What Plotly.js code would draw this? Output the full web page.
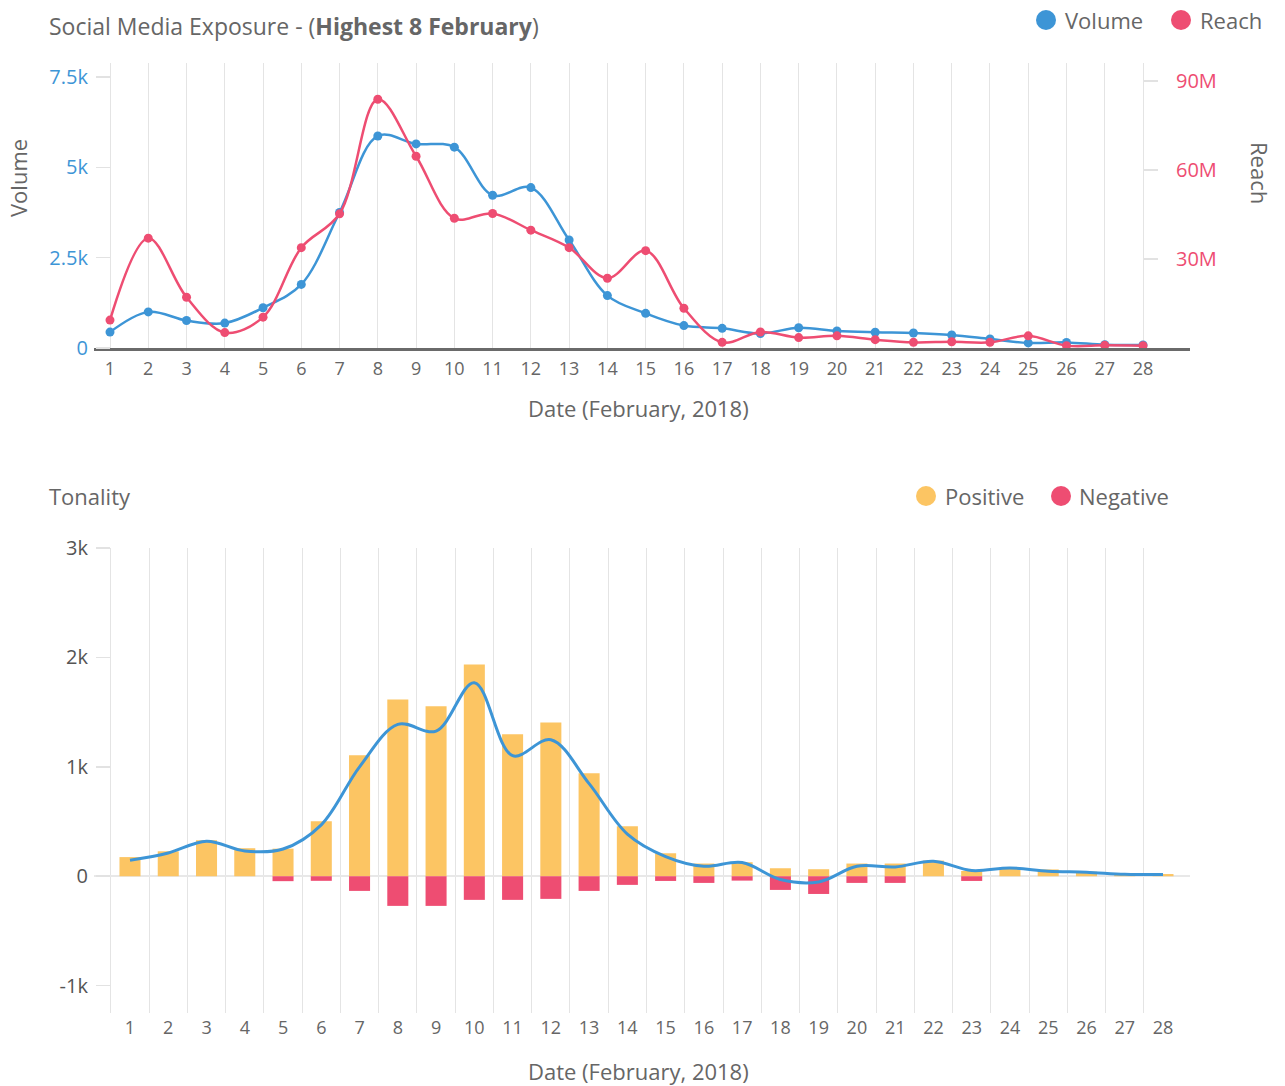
<!DOCTYPE html>
<html>
<head>
<meta charset="utf-8">
<script src="https://cdn.plot.ly/plotly-3.0.1.min.js"></script>
<style>
  html, body { margin: 0; padding: 0; background: #fff; }
  #chart { width: 1285px; height: 1086px; }
</style>
</head>
<body>
<div id="chart"></div>
<script>
// ---------- data ----------
const days = [1,2,3,4,5,6,7,8,9,10,11,12,13,14,15,16,17,18,19,20,21,22,23,24,25,26,27,28];
const dayLabels = ["1","2","3","4","5","6","7","8","9","10","11","12","13","14","15","16","17","18","19","20","21","22","23","24","25","26","27","28"];

const volume = [440,1000,760,690,1115,1760,3750,5870,5650,5560,4230,4440,2990,1450,960,620,545,400,560,470,435,415,360,250,140,155,90,85];
const reach = [9.4e6,37.0e6,17.1e6,5.2e6,10.4e6,33.8e6,45.2e6,83.8e6,64.6e6,43.7e6,45.3e6,39.7e6,33.8e6,23.5e6,32.8e6,13.4e6,1.9e6,5.4e6,3.5e6,4.1e6,2.8e6,1.9e6,2.1e6,1.9e6,4.1e6,0.8e6,0.9e6,0.8e6];

const positive = [175,228,329,256,252,502,1105,1616,1553,1936,1297,1406,941,457,210,116,128,73,64,116,116,143,48,70,62,42,14,20];
const negative = [0,0,0,0,-45,-42,-134,-271,-271,-216,-216,-207,-134,-79,-43,-61,-40,-125,-162,-61,-61,0,-43,0,0,0,0,0];
const tonalityTrend = [146,213,320,231,249,470,1000,1388,1327,1769,1102,1248,846,385,180,91,125,-30,-52,91,85,137,52,76,46,37,18,15];

const volTickVals = [0,2500,5000,7500];
const volTickText = ["0","2.5k","5k","7.5k"];
const reachTickVals = [30e6,60e6,90e6];
const reachTickText = ["30M","60M","90M"];
const tonTickVals = [-1000,0,1000,2000,3000];
const tonTickText = ["-1k","0","1k","2k","3k"];

// ---------- style ----------
const BLUE = "#3d95d6", PINK = "#ee4d72", YELLOW = "#fcc563";
const TXT = "#666666", GRID = "#e4e4e4";
const FONT = "'Open Sans', Lato, sans-serif";
const W = 1285, H = 1086;
const px = x => x / W;
const py = y => 1 - y / H;

const gridBounds = days.map(d => d - 0.5);

const traces = [
  { type: "scatter", mode: "lines+markers", name: "Volume", x: days, y: volume,
    xaxis: "x", yaxis: "y", line: { color: BLUE, width: 2.5, shape: "spline", smoothing: 1 },
    marker: { color: BLUE, size: 9 }, cliponaxis: false },
  { type: "scatter", mode: "lines+markers", name: "Reach", x: days, y: reach,
    xaxis: "x", yaxis: "y2", line: { color: PINK, width: 2.5, shape: "spline", smoothing: 1 },
    marker: { color: PINK, size: 9 }, cliponaxis: false },
  { type: "bar", name: "Positive", x: days, y: positive, xaxis: "x2", yaxis: "y3",
    marker: { color: YELLOW }, width: 0.55 },
  { type: "bar", name: "Negative", x: days, y: negative, xaxis: "x2", yaxis: "y3",
    marker: { color: PINK }, width: 0.55 },
  { type: "scatter", mode: "lines", name: "Trend", x: days, y: tonalityTrend, xaxis: "x2", yaxis: "y3",
    line: { color: BLUE, width: 3, shape: "spline", smoothing: 1 } }
];

const TS = 22;
const annotations = [
  { text: "Social Media Exposure - (<b>Highest 8 February</b>)", x: px(47), y: py(26), xanchor: "left", yanchor: "middle",
    font: { size: 23, color: TXT } },
  { text: "Volume", x: px(1063), y: py(20), xanchor: "left", yanchor: "middle", font: { size: TS, color: TXT } },
  { text: "Reach", x: px(1198), y: py(20), xanchor: "left", yanchor: "middle", font: { size: TS, color: TXT } },
  { text: "Volume", x: px(18), y: py(178), xanchor: "center", yanchor: "middle", textangle: -90, font: { size: TS, color: TXT } },
  { text: "Reach", x: px(1260), y: py(173), xanchor: "center", yanchor: "middle", textangle: 90, font: { size: TS, color: TXT } },
  { text: "Date (February, 2018)", x: px(638), y: py(408), xanchor: "center", yanchor: "middle", font: { size: TS, color: TXT } },
  { text: "Tonality", x: px(47), y: py(496), xanchor: "left", yanchor: "middle", font: { size: TS, color: TXT } },
  { text: "Positive", x: px(943), y: py(496), xanchor: "left", yanchor: "middle", font: { size: TS, color: TXT } },
  { text: "Negative", x: px(1077), y: py(496), xanchor: "left", yanchor: "middle", font: { size: TS, color: TXT } },
  { text: "Date (February, 2018)", x: px(638), y: py(1071), xanchor: "center", yanchor: "middle", font: { size: TS, color: TXT } }
].map(a => Object.assign({ xref: "paper", yref: "paper", showarrow: false }, a));

// legend dots (decoration)
const dot = (cx, cy, color) => ({ type: "circle", xref: "paper", yref: "paper",
  x0: px(cx - 10), x1: px(cx + 10), y0: py(cy + 10), y1: py(cy - 10),
  fillcolor: color, line: { width: 0 } });
const shapes = [
  dot(1046, 20, BLUE), dot(1181, 20, PINK),
  dot(926, 496, YELLOW), dot(1061, 496, PINK)
];

const layout = {
  width: W, height: H,
  margin: { l: 0, r: 0, t: 0, b: 0 },
  paper_bgcolor: "#fff", plot_bgcolor: "#fff",
  font: { family: FONT, color: TXT, size: 19 },
  showlegend: false,
  hovermode: false,
  barmode: "relative",
  xaxis: {
    domain: [px(94), px(1190)], anchor: "y", range: [0.5818, 29.228],
    tickmode: "array", tickvals: days, ticktext: dayLabels,
    showgrid: true, gridcolor: GRID, gridwidth: 1,
    ticks: "", showline: true, linecolor: "#6a6a6a", linewidth: 2.5,
    zeroline: false, tickfont: { size: 18, color: TXT }, ticklabelstandoff: 3
  },
  yaxis: {
    domain: [py(348), py(63)], anchor: "free", position: px(110), range: [0, 7890],
    tickmode: "array", tickvals: volTickVals, ticktext: volTickText,
    showgrid: false, zeroline: false, showline: false,
    ticks: "outside", ticklen: 14, tickcolor: "#e2e2e2", tickwidth: 1.5,
    tickfont: { size: 20, color: BLUE }, ticklabelstandoff: 4
  },
  yaxis2: {
    overlaying: "y", side: "right", anchor: "free", position: px(1143), range: [0, 96.0e6],
    tickmode: "array", tickvals: reachTickVals, ticktext: reachTickText,
    showgrid: false, zeroline: false, showline: false,
    ticks: "outside", ticklen: 14, tickcolor: "#e2e2e2", tickwidth: 1.5,
    tickfont: { size: 20, color: PINK }, ticklabelstandoff: 14
  },
  xaxis2: {
    domain: [px(94), px(1190)], anchor: "y3", range: [0.0591, 28.706],
    tickmode: "array", tickvals: days, ticktext: dayLabels,
    showgrid: false, ticks: "", showline: false, zeroline: false,
    minor: { tickmode: "array", tickvals: gridBounds, showgrid: true, gridcolor: GRID, gridwidth: 1, ticks: "" },
    tickfont: { size: 18, color: TXT }, ticklabelstandoff: 2
  },
  yaxis3: {
    domain: [py(1013), py(548)], anchor: "free", position: px(110), range: [-1250, 3000],
    tickmode: "array", tickvals: tonTickVals, ticktext: tonTickText,
    showgrid: false, showline: false,
    zeroline: true, zerolinecolor: "#e8e8e8", zerolinewidth: 2,
    ticks: "outside", ticklen: 14, tickcolor: "#e2e2e2", tickwidth: 1.5,
    tickfont: { size: 20, color: "#555" }, ticklabelstandoff: 4
  },
  annotations: annotations,
  shapes: shapes
};

Plotly.newPlot("chart", traces, layout, { displayModeBar: false, staticPlot: true });
</script>
</body>
</html>
